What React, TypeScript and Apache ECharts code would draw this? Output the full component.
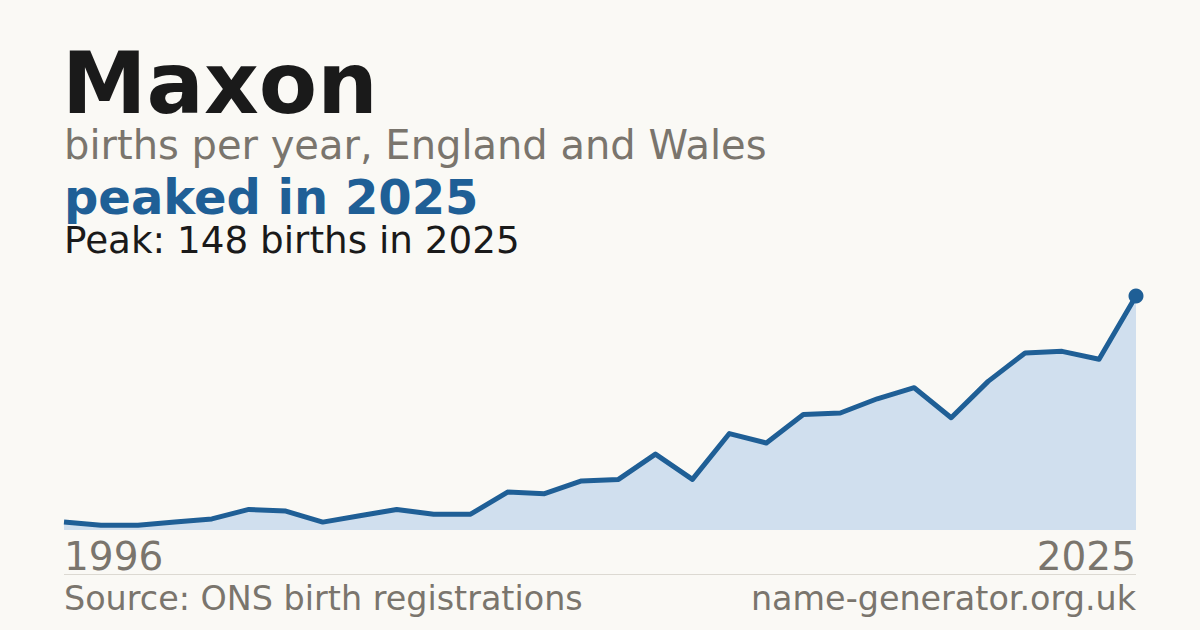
import React, { useEffect, useRef } from "react";
import * as echarts from "echarts";

const years: string[] = [
  "1996", "1997", "1998", "1999", "2000", "2001", "2002", "2003", "2004", "2005",
  "2006", "2007", "2008", "2009", "2010", "2011", "2012", "2013", "2014", "2015",
  "2016", "2017", "2018", "2019", "2020", "2021", "2022", "2023", "2024", "2025",
];
const births: number[] = [
  5, 3, 3, 5, 7, 13, 12, 5, 9, 13,
  10, 10, 24, 23, 31, 32, 48, 32, 61, 55,
  73, 74, 83, 90, 71, 94, 112, 113, 108, 148,
];

const title = "Maxon";
const subtitle = "births per year, England and Wales";
const headline = "peaked in 2025";
const peakNote = "Peak: 148 births in 2025";
const sourceText = "Source: ONS birth registrations";
const siteText = "name-generator.org.uk";

const FONT = "'DejaVu Sans', sans-serif";
const BLUE = "#1f5f96";
const GREY = "#7a756d";
const BG = "#faf9f5";

export default function App() {
  const ref = useRef<HTMLDivElement>(null);
  useEffect(() => {
    if (!ref.current) return;
    const chart = echarts.init(ref.current, null, { renderer: "svg" });
    const last = births.length - 1;
    const peak = Math.max(...births);
    const text = (t: string, x: number, baseline: number, size: number, weight: string, fill: string, align = "left") => ({
      type: "text",
      x,
      y: baseline - size * 0.346,
      style: {
        text: t,
        font: `${weight} ${size}px ${FONT}`,
        fill,
        lineHeight: Math.round(size * 0.9),
        textAlign: align,
        textVerticalAlign: "middle",
      },
    });
    chart.setOption({
      animation: false,
      backgroundColor: BG,
      grid: { left: 64, right: 64, top: 296, bottom: 100, containLabel: false },
      xAxis: {
        type: "category",
        data: years,
        boundaryGap: false,
        axisLine: { show: false },
        axisTick: { show: false },
        splitLine: { show: false },
        axisLabel: {
          interval: (i: number) => i === 0 || i === last,
          alignMinLabel: "left",
          alignMaxLabel: "right",
          color: GREY,
          fontFamily: FONT,
          fontSize: 39,
          lineHeight: 39,
          margin: 7,
        },
      },
      yAxis: {
        type: "value",
        min: 0,
        max: peak,
        show: false,
        splitLine: { show: false },
      },
      series: [
        {
          type: "line",
          data: births,
          showAllSymbol: true,
          symbol: "circle",
          symbolSize: (_v: number, p: any) => (p.dataIndex === last ? 15 : 0),
          itemStyle: { color: BLUE },
          lineStyle: { color: BLUE, width: 5, join: "round" },
          areaStyle: { color: "#d0dfee", opacity: 1 },
          z: 2,
        },
      ],
      graphic: [
        text(title, 62, 112.5, 85, "bold", "#1a1a1a"),
        text(subtitle, 64, 159, 40, "normal", GREY),
        text(headline, 64, 213.5, 48, "bold", BLUE),
        text(peakNote, 64, 253, 37.3, "normal", "#1a1a1a"),
        {
          type: "line",
          shape: { x1: 64, y1: 574.5, x2: 1136, y2: 574.5 },
          style: { stroke: "#dcd9d2", lineWidth: 1 },
        },
        text(sourceText, 64, 610, 33.4, "normal", GREY),
        text(siteText, 1136, 610, 33.4, "normal", GREY, "right"),
      ],
    });
    return () => chart.dispose();
  }, []);
  return (
    <div style={{ position: "fixed", left: 0, top: 0, width: 1200, height: 630, background: BG }}>
      <div ref={ref} style={{ width: 1200, height: 630 }} />
    </div>
  );
}
